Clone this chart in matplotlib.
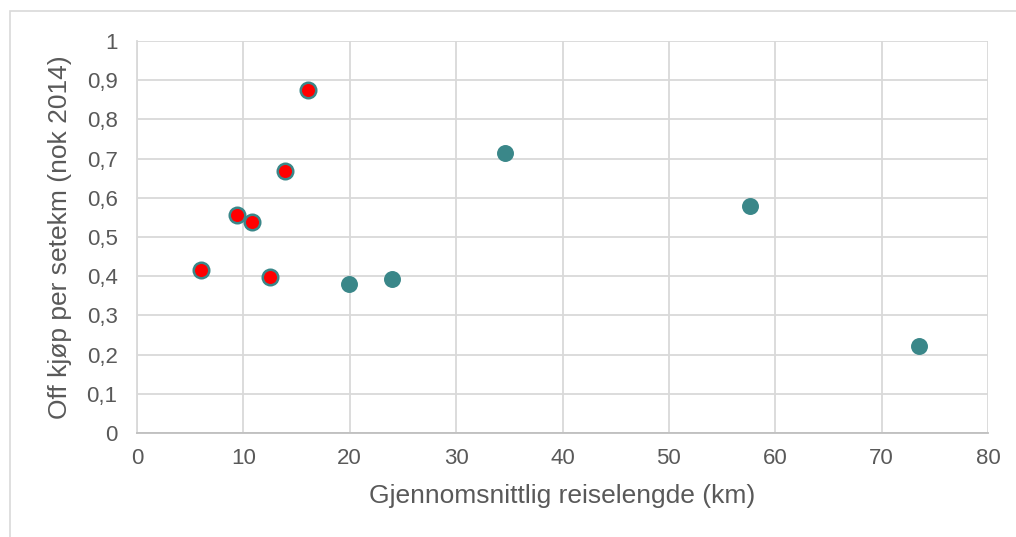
import matplotlib
matplotlib.use("Agg")
import matplotlib.pyplot as plt
from matplotlib.patches import Rectangle

plt.rcParams['font.family'] = ['Liberation Sans', 'DejaVu Sans']

red_x = [6.0, 9.4, 10.8, 12.5, 13.9, 16.1]
red_y = [0.415, 0.556, 0.539, 0.398, 0.668, 0.874]
teal_x = [19.9, 24.0, 34.6, 57.6, 73.5]
teal_y = [0.381, 0.393, 0.714, 0.579, 0.223]

xticks = [0, 10, 20, 30, 40, 50, 60, 70, 80]
yticks = [0, 0.1, 0.2, 0.3, 0.4, 0.5, 0.6, 0.7, 0.8, 0.9, 1.0]
ytick_labels = ['0', '0,1', '0,2', '0,3', '0,4', '0,5', '0,6', '0,7', '0,8', '0,9', '1']

teal = '#3A8789'
W, H = 1016, 537
fig = plt.figure(figsize=(W/100, H/100), dpi=100)
fig.patches.append(Rectangle((10/W, -0.1), 1.2, 1 - 11/H + 0.1, transform=fig.transFigure,
                             fill=False, edgecolor='#D9D9D9', linewidth=1.2))
ax = fig.add_axes([137/W, 1 - 433/H, (988-137)/W, (433-41)/H])
ax.set_xlim(0, 80)
ax.set_ylim(0, 1)
ax.set_xticks(xticks)
ax.set_yticks(yticks)
ax.set_yticklabels(ytick_labels)
ax.grid(True, color='#D9D9D9', linewidth=1.3)
ax.set_axisbelow(True)
for s in ['top', 'right']:
    ax.spines[s].set_visible(False)
ax.spines['left'].set_color('#D9D9D9')
ax.spines['bottom'].set_color('#BFBFBF')
ax.spines['left'].set_linewidth(1.3)
ax.spines['bottom'].set_linewidth(1.3)
ax.tick_params(length=0, labelsize=16, colors='#595959')
ax.tick_params(axis='y', pad=14)
ax.tick_params(axis='x', pad=11)

ax.scatter(teal_x, teal_y, s=125, color=teal, edgecolors=teal, linewidths=1.0, zorder=3)
ax.scatter(red_x, red_y, s=125, color='#FF0000', edgecolors=teal, linewidths=1.8, zorder=3)

ax.set_xlabel('Gjennomsnittlig reiselengde (km)', fontsize=19, color='#595959')
ax.set_ylabel('Off kjøp per setekm (nok 2014)', fontsize=19, color='#595959')
ax.xaxis.set_label_coords(0.5, -0.13)
ax.yaxis.set_label_coords(-0.076, 0.5)

fig.savefig('out.png', dpi=100)
